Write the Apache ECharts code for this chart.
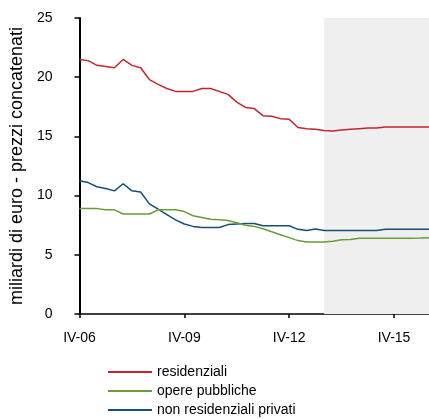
<!DOCTYPE html>
<html>
<head>
<meta charset="utf-8">
<script src="https://cdn.jsdelivr.net/npm/echarts@6/dist/echarts.min.js"></script>
<style>html,body{margin:0;padding:0;background:#fff}#c{width:429px;height:419px}</style>
</head>
<body>
<div id="c"></div>
<script>
// Quarters IV-06 .. IV-16
const romans = ['I','II','III','IV'];
const quarters = [];
for (let y = 6, q = 3; y <= 16; ) {
  quarters.push(romans[q] + '-' + String(y).padStart(2, '0'));
  q++; if (q > 3) { q = 0; y++; }
  if (y === 16 && q === 0) { quarters.push('I-16','II-16','III-16','IV-16'); break; }
}
const forecastStart = 'IV-13';

const residenziali = [21.5, 21.4, 21.0, 20.9, 20.8, 21.5, 21.0, 20.8, 19.8, 19.4,
  19.05, 18.8, 18.8, 18.8, 19.05, 19.05, 18.8, 18.55, 17.9, 17.45,
  17.35, 16.75, 16.7, 16.5, 16.45, 15.75, 15.65, 15.6, 15.5, 15.45,
  15.55, 15.6, 15.65, 15.7, 15.7, 15.8, 15.8, 15.8, 15.8, 15.8, 15.8];
const operePubbliche = [8.9, 8.9, 8.9, 8.8, 8.8, 8.45, 8.45, 8.45, 8.45, 8.8,
  8.8, 8.8, 8.65, 8.3, 8.15, 8.0, 7.95, 7.9, 7.7, 7.5,
  7.4, 7.2, 6.95, 6.7, 6.45, 6.2, 6.08, 6.08, 6.08, 6.15,
  6.28, 6.3, 6.4, 6.4, 6.4, 6.4, 6.4, 6.4, 6.4, 6.42, 6.45];
const nonResidenziali = [11.25, 11.1, 10.75, 10.6, 10.4, 11.0, 10.4, 10.3, 9.3, 8.85,
  8.4, 7.95, 7.6, 7.4, 7.3, 7.3, 7.3, 7.55, 7.6, 7.65,
  7.65, 7.45, 7.45, 7.45, 7.45, 7.15, 7.05, 7.18, 7.05, 7.05,
  7.05, 7.05, 7.05, 7.05, 7.05, 7.15, 7.15, 7.15, 7.15, 7.15, 7.15];
const seriesNames = ['residenziali', 'opere pubbliche', 'non residenziali privati'];
const yTitle = 'miliardi di euro - prezzi concatenati';

const font = 'Liberation Sans, Arial, sans-serif';
const chart = echarts.init(document.getElementById('c'), null, {renderer: 'canvas'});
chart.setOption({
  animation: false,
  backgroundColor: '#fff',
  textStyle: {fontFamily: font, color: '#000'},
  grid: {left: 79, right: -4, top: 18, bottom: 105, containLabel: false},
  legend: {
    orient: 'vertical', left: 108, top: 364, height: 90, padding: 0,
    icon: 'rect', itemWidth: 44, itemHeight: 2, itemGap: 3,
    textStyle: {fontFamily: font, fontSize: 14, color: '#000', lineHeight: 16},
    data: seriesNames
  },
  xAxis: {
    type: 'category', data: quarters, boundaryGap: false,
    axisLine: {lineStyle: {color: '#000', width: 1.5}},
    axisTick: {interval: 11, length: 4, lineStyle: {color: '#000', width: 1.5}},
    axisLabel: {interval: 11, margin: 17, fontSize: 14, color: '#000', fontFamily: font},
    splitLine: {show: false}
  },
  yAxis: {
    type: 'value', min: 0, max: 25, interval: 5,
    name: yTitle, nameLocation: 'middle', nameGap: 52, nameRotate: 90,
    nameTextStyle: {fontSize: 18, color: '#000', fontFamily: font},
    axisLine: {show: true, lineStyle: {color: '#000', width: 2}},
    axisTick: {show: true, length: 5, lineStyle: {color: '#000', width: 1.5}},
    axisLabel: {margin: 27, fontSize: 14, color: '#000', fontFamily: font},
    splitLine: {show: false}
  },
  series: [
    {name: seriesNames[0], type: 'line', data: residenziali, symbol: 'none',
     lineStyle: {color: '#c1272d', width: 1.5}, itemStyle: {color: '#c1272d'}, z: 5,
     markArea: {silent: true, itemStyle: {color: '#efefef'},
       data: [[{xAxis: forecastStart}, {xAxis: quarters[quarters.length - 1]}]]}},
    {name: seriesNames[1], type: 'line', data: operePubbliche, symbol: 'none',
     lineStyle: {color: '#6b9a3a', width: 1.5}, itemStyle: {color: '#6b9a3a'}, z: 4},
    {name: seriesNames[2], type: 'line', data: nonResidenziali, symbol: 'none',
     lineStyle: {color: '#144f75', width: 1.5}, itemStyle: {color: '#144f75'}, z: 3}
  ]
});
</script>
</body>
</html>
